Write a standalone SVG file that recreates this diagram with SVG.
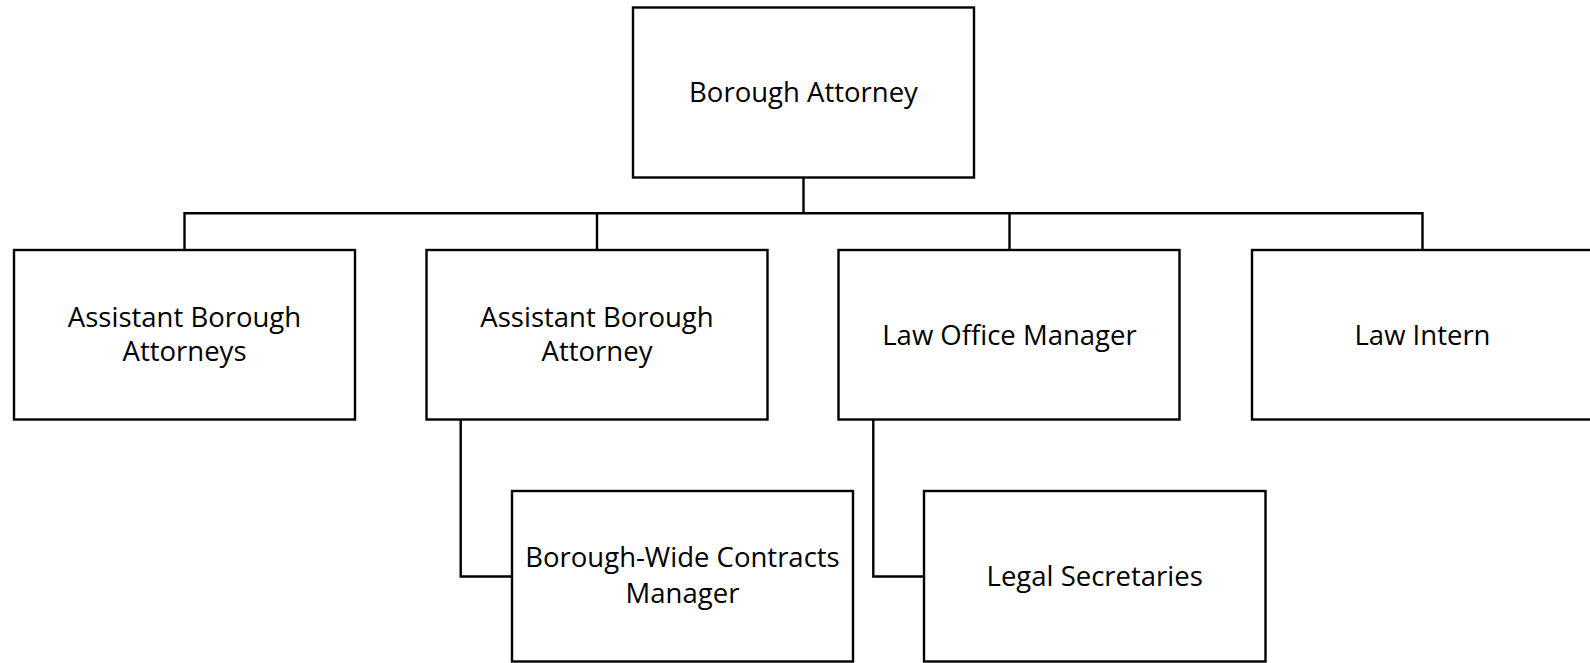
<svg xmlns="http://www.w3.org/2000/svg" width="1590" height="663" viewBox="0 0 1590 663">
<style>
.box{fill:#fff;stroke:#000;stroke-width:2.4}
.ln{fill:none;stroke:#000;stroke-width:2.4}
text{font-family:"Open Sans","Noto Sans",sans-serif;font-size:27.5px;fill:#000;text-anchor:middle}
</style>
<rect width="1590" height="663" fill="#fff"/>
<g id="connectors">
<path class="ln" d="M803.5,177.5V213.3"/>
<path class="ln" d="M184.5,250V213.3H1422.5V250"/>
<path class="ln" d="M597,213.3V250"/>
<path class="ln" d="M1009.5,213.3V250"/>
<path class="ln" d="M460.7,419.5V576.5H512"/>
<path class="ln" d="M873.3,419.5V576.5H924"/>
</g>
<g id="borough-attorney">
<rect class="box" x="633" y="7.5" width="341" height="170"/>
<text x="803.5" y="102">Borough Attorney</text>
</g>
<g id="assistant-borough-attorneys">
<rect class="box" x="14" y="250" width="341" height="169.5"/>
<text x="184.5" y="326.5">Assistant Borough</text>
<text x="184.5" y="361">Attorneys</text>
</g>
<g id="assistant-borough-attorney">
<rect class="box" x="426.5" y="250" width="341" height="169.5"/>
<text x="597" y="326.5">Assistant Borough</text>
<text x="597" y="361">Attorney</text>
</g>
<g id="law-office-manager">
<rect class="box" x="838.5" y="250" width="341" height="169.5"/>
<text x="1009.5" y="344.5">Law Office Manager</text>
</g>
<g id="law-intern">
<rect class="box" x="1252" y="250" width="341" height="169.5"/>
<text x="1422.5" y="344.5">Law Intern</text>
</g>
<g id="contracts-manager">
<rect class="box" x="512" y="491" width="341" height="170.5"/>
<text x="682.5" y="567">Borough-Wide Contracts</text>
<text x="682.5" y="602.5">Manager</text>
</g>
<g id="legal-secretaries">
<rect class="box" x="924" y="491" width="341.5" height="170.5"/>
<text x="1094.7" y="585.5">Legal Secretaries</text>
</g>
</svg>
